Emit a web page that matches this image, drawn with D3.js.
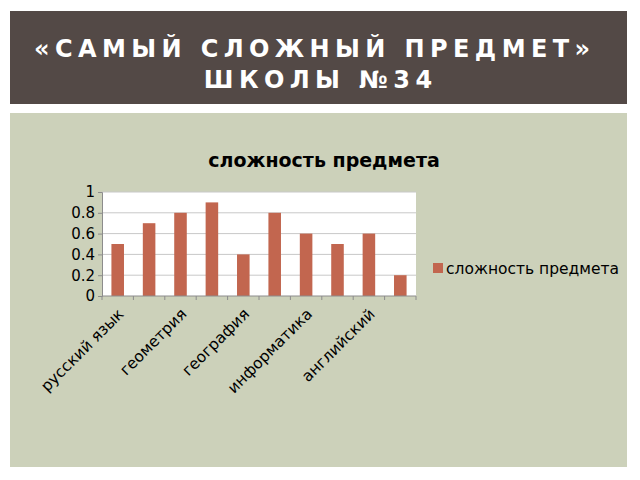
<!DOCTYPE html>
<html><head><meta charset="utf-8">
<script src="https://cdn.jsdelivr.net/npm/d3@7/dist/d3.min.js"></script>
<style>body{margin:0;background:#fff}svg{display:block}</style>
</head><body>
<script>
const titleLines = ["«САМЫЙ СЛОЖНЫЙ ПРЕДМЕТ»", "ШКОЛЫ №34"];
const chartTitle = "сложность предмета";
const seriesName = "сложность предмета";
const categories = ["русский язык","алгебра","геометрия","физика","география","история","информатика","химия","английский","биология"];
const values = [0.5, 0.7, 0.8, 0.9, 0.4, 0.8, 0.6, 0.5, 0.6, 0.2];
const yTicks = [0, 0.2, 0.4, 0.6, 0.8, 1];
const shownLabels = ["русский язык","геометрия","география","информатика","английский"];

const W = 640, H = 480;
const svg = d3.select("body").append("svg").attr("width", W).attr("height", H);
svg.append("rect").attr("width", W).attr("height", H).attr("fill", "#fff");

// header
svg.append("rect").attr("x", 10).attr("y", 11).attr("width", 617).attr("height", 93).attr("fill", "#534946");
const tt = svg.append("text").attr("fill", "#fff")
  .style("font-family", "'DejaVu Sans'").style("font-weight", 700)
  .style("font-size", "24px").attr("text-anchor", "middle");
const t1 = tt.append("tspan").attr("x", 312).attr("y", 57).text(titleLines[0]);
const w0 = t1.node().getComputedTextLength();
const ls = Math.max(0, (556 - w0) / (titleLines[0].length - 1));
tt.style("letter-spacing", ls + "px");
t1.attr("x", 312 + ls / 2);
tt.append("tspan").attr("x", 318 + ls / 2).attr("y", 88).text(titleLines[1]);

// panel
svg.append("rect").attr("x", 10).attr("y", 113).attr("width", 617).attr("height", 354).attr("fill", "#ccd1ba");

const font = "'DejaVu Sans'";
svg.append("text").attr("x", 324).attr("y", 167).attr("text-anchor", "middle")
  .style("font-family", font).style("font-weight", 700).style("font-size", "19px")
  .attr("fill", "#000").text(chartTitle);

const L = 102, R = 416, T = 192, B = 296;
const x = d3.scaleBand().domain(categories).range([L, R]).paddingInner(0.6).paddingOuter(0.3);
const y = d3.scaleLinear().domain([0, 1]).range([B, T]);

svg.append("rect").attr("x", L).attr("y", T).attr("width", R - L).attr("height", B - T).attr("fill", "#fff");

svg.append("g").selectAll("line").data(yTicks.slice(1)).join("line")
  .attr("x1", L).attr("x2", R).attr("y1", d => y(d)).attr("y2", d => y(d))
  .attr("stroke", "#c8c8c8").attr("stroke-width", 1);

svg.append("g").selectAll("rect").data(values).join("rect")
  .attr("x", (d, i) => x(categories[i])).attr("width", x.bandwidth())
  .attr("y", d => y(d)).attr("height", d => B - y(d)).attr("fill", "#c2664f");

// y axis
const ya = svg.append("g").attr("transform", `translate(${L},0)`)
  .call(d3.axisLeft(y).tickValues(yTicks).tickFormat(d3.format("")).tickSize(4).tickPadding(3));
ya.select(".domain").attr("stroke", "#8c8c8c");
ya.selectAll(".tick line").attr("stroke", "#8c8c8c");
ya.selectAll("text").style("font-family", font).style("font-size", "15px").attr("fill", "#000");

// x axis
const step = x.step();
const xa = svg.append("g").attr("transform", `translate(0,${B})`);
xa.append("line").attr("x1", L).attr("x2", R).attr("stroke", "#8c8c8c");
xa.selectAll("line.tk").data(d3.range(categories.length + 1)).join("line").attr("class", "tk")
  .attr("x1", i => L + i * step).attr("x2", i => L + i * step).attr("y1", 0).attr("y2", 4)
  .attr("stroke", "#8c8c8c");
xa.selectAll("text").data(shownLabels).join("text")
  .attr("transform", d => `translate(${x(d) + x.bandwidth() / 2 + 7},${19}) rotate(-45)`)
  .attr("text-anchor", "end")
  .style("font-family", font).style("font-size", "15.5px").attr("fill", "#000").text(d => d);

// legend
svg.append("rect").attr("x", 433).attr("y", 263).attr("width", 10).attr("height", 10).attr("fill", "#c2664f");
svg.append("text").attr("x", 446).attr("y", 274).style("font-family", font).style("font-size", "15.5px")
  .attr("fill", "#000").text(seriesName);
</script>
</body></html>
